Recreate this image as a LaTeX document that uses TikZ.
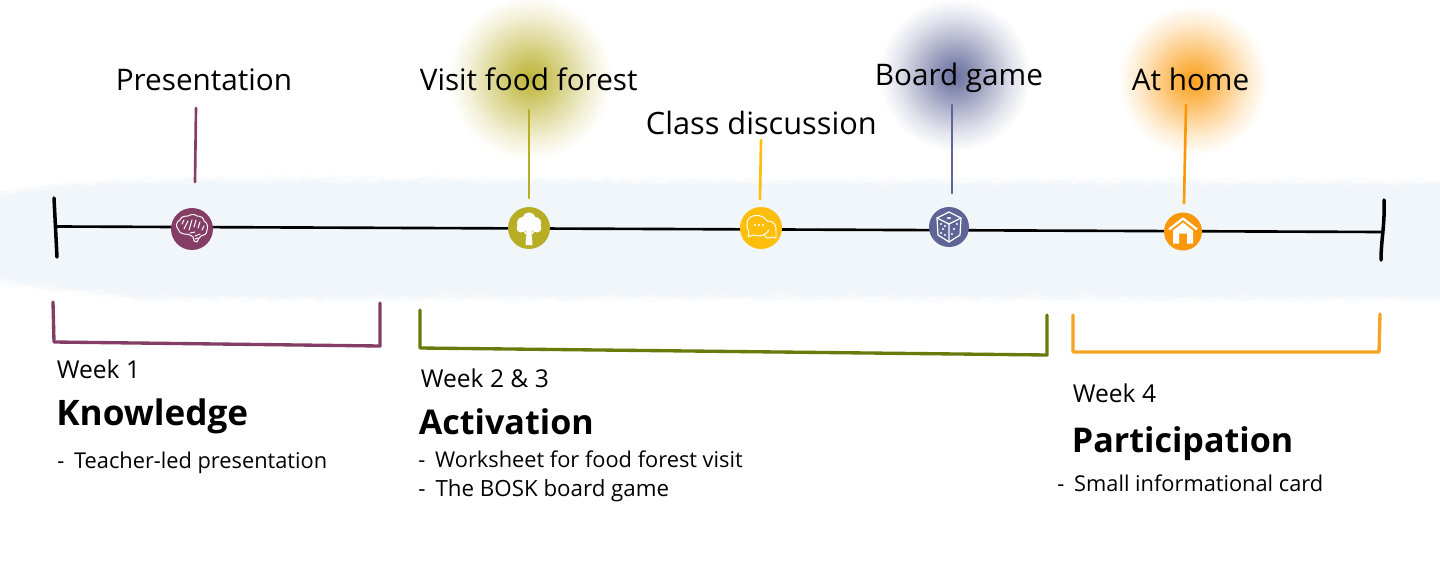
\documentclass[tikz,border=0pt]{standalone}
\usepackage{fontspec}
\setmainfont{Open Sans}
\usetikzlibrary{decorations.pathmorphing}
\definecolor{plum}{RGB}{132,62,102}
\definecolor{moss}{RGB}{184,174,38}
\definecolor{sun}{RGB}{255,190,12}
\definecolor{slate}{RGB}{94,100,150}
\definecolor{amber}{RGB}{250,152,10}
\definecolor{darkmoss}{RGB}{106,122,10}
\definecolor{lightamber}{RGB}{245,165,35}
\definecolor{mist}{RGB}{241,246,250}
\colorlet{glowc}{white}
\pgfdeclareradialshading[glowc]{softglow}{\pgfpointorigin}{color(0bp)=(glowc!92!white);color(5bp)=(glowc!75!white);color(12bp)=(glowc!46!white);color(19bp)=(glowc!18!white);color(25bp)=(white);color(50bp)=(white)}

\begin{document}
\begin{tikzpicture}[
  x=0.02cm, y=-0.02cm,
  tickline/.style={line width=2pt, draw=black, line cap=round},
  axis/.style={line width=1.5pt, draw=black},
  stem/.style={line width=1.5pt, line cap=round},
  bracket/.style={line width=1.9pt, line join=round, line cap=round},
  icon/.style={circle, minimum size=0.84cm, inner sep=0pt},
  ink/.style={draw=white, line width=0.55pt, line cap=round, line join=round},
  act/.style={anchor=base west, inner sep=0pt, font=\fontsize{16.9}{20}\selectfont},
  week/.style={anchor=base west, inner sep=0pt, font=\fontsize{14}{17}\selectfont},
  phase/.style={anchor=base west, inner sep=0pt, font=\fontsize{19.4}{24}\selectfont\bfseries},
  task/.style={anchor=base west, inner sep=0pt, font=\fontsize{12.4}{15}\selectfont}
]
\useasboundingbox (0,0) rectangle (1440,565);

% Glows
\foreach \cx/\cy/\cr/\cc in {530/78/82/moss, 955/75/76/slate, 1193/80/75/amber} {
  \colorlet{glowc}{\cc}
  \shade[shading=softglow] (\cx,\cy) circle (\cr);
}

% Band
\begin{scope}
\clip (0,0) rectangle (1440,565);
\foreach \g/\t in {5/30, 2/65, -1/100} {
  \fill[mist!\t!white, decorate, decoration={random steps, segment length=4pt, amplitude=1.2pt}]
    (-20,{197-\g}) -- (70,{186-\g}) -- (200,{181-\g}) -- (700,{183-\g}) -- (1460,{184-\g})
    -- (1460,{297+\g}) -- (700,{296+\g}) -- (150,{297+\g}) -- (60,{288+\g}) -- (-20,{277+\g}) -- cycle;
}
\end{scope}

% Timeline
\coordinate (start) at (57,226.5);
\coordinate (end)   at (1383,232);
\draw[axis] (start) -- (end);

\node[icon, fill=plum]  (brain) at (192,229) {};
\node[icon, fill=moss]  (tree)  at (529,228) {};
\node[icon, fill=sun]   (chat)  at (761,228) {};
\node[icon, fill=slate, minimum size=0.8cm] (dice)  at (949,227) {};
\node[icon, fill=amber, minimum size=0.76cm] (house) at (1183,231.5) {};

\coordinate (startT) at (54,198);
\coordinate (startB) at (57,257);
\coordinate (endT)   at (1384,200);
\coordinate (endB)   at (1381,260);
\draw[tickline] (startT) -- (startB);
\draw[tickline] (endT) .. controls (1385,225) and (1381,240) .. (endB);

% Brain icon
\begin{scope}[shift={(brain.center)}]
\draw[ink] (-14,0) .. controls (-17,-3) and (-15,-8) .. (-12,-9) .. controls (-11,-13) and (-6,-13) .. (-4,-13)
  .. controls (-1,-15) and (3,-15) .. (5,-13) .. controls (9,-13) and (12,-11) .. (12,-8)
  .. controls (16,-6) and (16,-1) .. (15,1) .. controls (15,5) and (12,7) .. (9,7)
  .. controls (7,9) and (6,10) .. (5,13) -- (2,12) -- (1,8) .. controls (-2,5) and (-6,5) .. (-8,5)
  .. controls (-11,5) and (-13,3) .. (-14,0);
\draw[ink] (-10,-5) -- (-8,-9) (-8,0) -- (-4,-8) (-3,1) -- (0,-9) (2,-2) -- (4,-9) (6,-1) -- (8,-7)
  (10,1) -- (12,-3) (-2,4) -- (3,3) (3,7) -- (8,5) (3,10) -- (6,9);
\end{scope}

% Tree icon
\begin{scope}[shift={(tree.center)}]
\fill[white] (-2.5,3) -- (2.5,3) -- (3.5,17) -- (-3.5,17) -- cycle;
\fill[white] (0,-9) circle (6.5);
\fill[white] (-6,-5) circle (6);
\fill[white] (6,-5) circle (6);
\fill[white] (-8,0) circle (4.5);
\fill[white] (8,0) circle (4.5);
\fill[white] (0,-2) circle (6);
\draw[moss, line width=0.5pt] (-7,4.5) -- (-2,8) (7,4.5) -- (2,8);
\draw[white, line width=0.8pt] (-6,2) -- (-1,8) (6,2) -- (1,8);
\end{scope}

% Chat icon
\begin{scope}[shift={(chat.center)}]
\draw[ink] (6,-7) .. controls (2,-15) and (-15,-15) .. (-14,-3) .. controls (-14,0) and (-13,2) .. (-12,4) -- (-13,9) -- (-8,7) .. controls (-3,9) and (5,8) .. (8,2);
\draw[ink] (6,-7) .. controls (12,-8) and (16,-2) .. (15,3) -- (15,10) -- (11,9) .. controls (8,11) and (4,10) .. (3,6);
\fill[white] (-6,-3) circle (1.2) (-2,-3) circle (1.2) (2,-3) circle (1.2);
\end{scope}

% Dice icon
\begin{scope}[shift={(dice.center)}]
\draw[ink, line width=0.7pt] (0,-15) -- (12,-9) -- (11,8) -- (0,15) -- (-11,8) -- (-12,-9) -- cycle;
\draw[ink, line width=0.7pt] (-12,-9) -- (0,-3) -- (12,-9) (0,-3) -- (0,15);
\fill[white] (0,-9) ellipse (2 and 1) (-8,-3) circle (1.2) (-4,-1) circle (1.2) (-6,2) circle (1.2) (-8,6) circle (1.2) (-4,8) circle (1.2)
  (8,-3) circle (1.2) (5,2) circle (1.2) (3,7) circle (1.2);
\end{scope}

% House icon
\begin{scope}[shift={(house.center)}]
\fill[white] (-10,-1) -- (0,-9) -- (10,-1) -- (10,12) -- (4,12) -- (4,2) -- (-4,2) -- (-4,12) -- (-10,12) -- cycle;
\draw[white, line width=1.3pt, line join=round] (-14,-2) -- (0,-13) -- (14,-2);
\end{scope}

% Labels and stems
\node[act] (presentation) at (115.5,90)  {Presentation};
\node[act] (visit)        at (419.5,90)  {Visit food forest};
\node[act, font=\fontsize{17.5}{20}\selectfont] (discussion) at (645.5,134) {Class discussion};
\node[act] (boardgame)    at (874.5,85)  {Board game};
\node[act] (athome)       at (1131.5,90) {At home};

\coordinate (s1a) at (196,108);
\coordinate (s1b) at (195,182);
\coordinate (s2a) at (529,110);
\coordinate (s2b) at (529,198);
\coordinate (s3a) at (761,140);
\coordinate (s3b) at (760,199);
\coordinate (s4a) at (952,105);
\coordinate (s4b) at (952,193);
\coordinate (s5a) at (1186,105);
\coordinate (s5b) at (1184,203);
\draw[stem, plum]  (s1a) -- (s1b);
\draw[stem, moss]  (s2a) -- (s2b);
\draw[stem, sun]   (s3a) -- (s3b);
\draw[stem, slate] (s4a) -- (s4b);
\draw[stem, amber] (s5a) -- (s5b);

% Brackets
\coordinate (b1a) at (53,302);
\coordinate (b1b) at (54,342);
\coordinate (b1c) at (380,346);
\coordinate (b1d) at (380,303);
\coordinate (b2a) at (420,310);
\coordinate (b2b) at (420,348);
\coordinate (b2c) at (1047,355);
\coordinate (b2d) at (1047,315);
\coordinate (b3a) at (1073,315);
\coordinate (b3b) at (1073,352);
\coordinate (b3c) at (1379,352);
\coordinate (b3d) at (1380,314);
\draw[bracket, plum]       (b1a) -- (b1b) -- (b1c) -- (b1d);
\draw[bracket, darkmoss]   (b2a) -- (b2b) -- (b2c) -- (b2d);
\draw[bracket, lightamber] (b3a) -- (b3b) -- (b3c) -- (b3d);

% Phases
\node[week]  (week1) at (56.5,378)  {Week 1};
\node[phase, font=\fontsize{20}{24}\selectfont\bfseries] (knowledge) at (56,425) {Knowledge};
\node[task]  (t1) at (57,468) {-\hspace{0.45em}Teacher-led presentation};

\node[week]  (week2) at (420.5,387) {Week 2 \& 3};
\node[phase] (activation) at (418.5,434) {Activation};
\node[task]  (t2) at (418,467) {-\hspace{0.45em}Worksheet for food forest visit};
\node[task, font=\fontsize{12.7}{15}\selectfont]  (t3) at (418,496) {-\hspace{0.45em}The BOSK board game};

\node[week]  (week4) at (1072.5,402) {Week 4};
\node[phase] (participation) at (1071.5,452) {Participation};
\node[task]  (t4) at (1057,491) {-\hspace{0.45em}Small informational card};

\end{tikzpicture}
\end{document}
